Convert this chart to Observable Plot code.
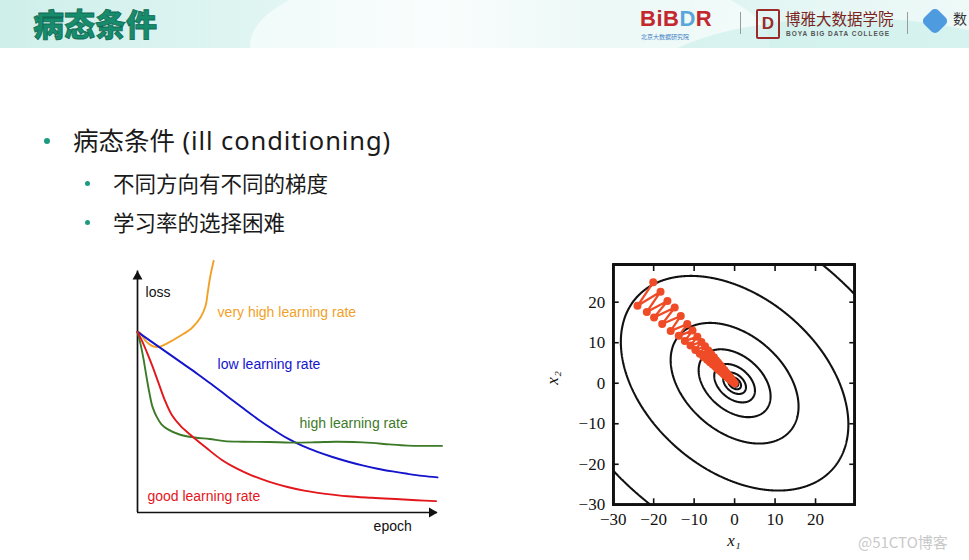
<!DOCTYPE html>
<html><head><meta charset="utf-8">
<script src="https://cdn.jsdelivr.net/npm/d3@7"></script>
<script src="https://cdn.jsdelivr.net/npm/@observablehq/plot@0.6"></script>
<style>
html,body{margin:0;padding:0;}
body{width:969px;height:560px;overflow:hidden;background:#fff;position:relative;font-family:"Noto Sans","Noto Sans CJK SC",sans-serif;color:#222;}
#hdr{position:absolute;left:0;top:0;width:969px;height:48px;overflow:hidden;
 background:linear-gradient(90deg,#cfefeb 0%,#e2f6f3 30%,#f3fbfa 45%,#d5f1ed 62%,#e3f6f3 80%,#eef9f8 100%);}
#hdr .w1{position:absolute;left:250px;top:-40px;width:520px;height:170px;border-radius:50%;background:rgba(255,255,255,0.55);}
#hdr .w2{position:absolute;left:640px;top:18px;width:420px;height:140px;border-radius:50%;background:rgba(200,238,233,0.6);}
#title{position:absolute;left:33px;top:3px;font-family:"Noto Sans CJK SC";font-size:31px;line-height:40px;font-weight:900;color:#168c6c;-webkit-text-stroke:0.8px #0f6a53;}
.logo{position:absolute;white-space:nowrap;}
.dot{position:absolute;width:6px;height:6px;border-radius:50%;background:#1d9a80;}
.txt{position:absolute;white-space:nowrap;color:#1a1a1a;}
#left{position:absolute;left:120px;top:248px;}
#right{position:absolute;left:540px;top:255px;}
#wm{position:absolute;left:858px;top:531px;font-size:15px;color:#c9c9c9;white-space:nowrap;font-family:"Noto Sans CJK SC";}
</style></head><body>
<div id="hdr"><div class="w1"></div><div class="w2"></div>
  <div id="title">病态条件</div>
  <div class="logo" style="left:640px;top:6px;font:bold 22px/26px 'Liberation Sans',sans-serif;color:#c3282e;letter-spacing:0.5px">BiB<span style="color:#59a6da">D</span>R</div>
  <div class="logo" style="left:641px;top:33px;font-size:6px;line-height:8px;color:#3f7fc4;font-family:'Noto Sans CJK SC'">北京大数据研究院</div>
  <div class="logo" style="left:740px;top:12px;width:1px;height:22px;background:#9a9a9a"></div>
  <div class="logo" style="left:756px;top:9px;width:20px;height:26px;border:2px solid #9b2a2a;border-radius:2px;font:bold 17px 'Liberation Sans';color:#9b2a2a;text-align:center;line-height:26px">D</div>
  <div class="logo" style="left:785px;top:8px;font-size:15.5px;line-height:20px;color:#7b2420;font-family:'Noto Sans CJK SC'">博雅大数据学院</div>
  <div class="logo" style="left:786px;top:30px;font:bold 6.5px 'Liberation Sans';color:#555;letter-spacing:1px">BOYA BIG DATA COLLEGE</div>
  <div class="logo" style="left:907px;top:12px;width:1px;height:22px;background:#9a9a9a"></div>
  <div class="logo" style="left:925px;top:11px;width:20px;height:20px;transform:rotate(45deg);border-radius:5px;background:#4f9be0"></div>
  <div class="logo" style="left:953px;top:9px;font-size:14px;line-height:18px;color:#333;font-family:'Noto Sans CJK SC'">数</div>
</div>

<div class="dot" style="left:44px;top:138px"></div>
<div class="txt" style="left:73px;top:121px;font-size:25.5px;line-height:38px">病态条件<span style="letter-spacing:0.9px"> (ill conditioning)</span></div>
<div class="dot" style="left:85px;top:181px;width:5px;height:5px"></div>
<div class="txt" style="left:113px;top:168px;font-size:21.5px;line-height:30px;font-family:'Noto Sans CJK SC'">不同方向有不同的梯度</div>
<div class="dot" style="left:85px;top:220px;width:5px;height:5px"></div>
<div class="txt" style="left:113px;top:207px;font-size:21.5px;line-height:30px;font-family:'Noto Sans CJK SC'">学习率的选择困难</div>

<div id="left"></div>
<div id="right"></div>
<div id="wm">@51CTO博客</div>

<script>
// ---------- Left chart: loss vs epoch ----------
const veryHighLR = [[0,60.2],[0.8,60],[2.7,57.2],[4.9,55.5],[7.1,55.2],[9.9,56.4],[14.3,58.9],[18.2,61.6],[21,65],[22.7,68.9],[23.4,73.3],[24.3,78.9],[25.4,83.9]];
const lowLR = [[0,60.2],[5,56.7],[10,53.2],[15,49.7],[20,46.2],[25,42.5],[30,38.7],[35,34.9],[40,31.2],[45,27.8],[50,24.7],[55,22.2],[60,20.2],[65,18.5],[70,17],[75,15.7],[80,14.6],[85,13.7],[90,12.9],[95,12.2],[100,11.7]];
const highLR = [[0,60.2],[1,56.2],[2,51.2],[3,45.2],[4,39.7],[5,35.2],[6.5,31.7],[8,29.4],[10,27.8],[14,26],[19,25],[24,24.5],[29,23.8],[35,23.6],[44,23.5],[51,23.3],[59,23.4],[66,23.6],[72,23.5],[78,23.2],[84,22.7],[90,22.3],[96,22.2],[101.5,22.2]];
const goodLR = [[0,60.2],[1.5,57.2],[3,53.7],[5,48.7],[7,43.2],[9,37.7],[11.5,32.4],[14.5,28.7],[18,25.6],[23,21.5],[28,17.6],[33,14.7],[38,12.4],[44,10.2],[50,8.5],[56,7.2],[62,6.3],[70,5.4],[78,4.9],[86,4.5],[93,4.1],[99.5,3.8]];
const seriesNames = ["very high learning rate","low learning rate","high learning rate","good learning rate"];
const seriesColors = ["#f2a128","#1414cc","#3c7a28","#e3161b"];
const labelEpoch = [26.7, 26.7, 54, 3.3];
const labelLoss = [66.5, 49.2, 29.5, 5.2];
const axisNames = ["loss","epoch"];
const axisNameEpoch = [2.7, 78.7];
const axisNameLoss = [73.2, -4.8];
const epochEnd = 100, lossTop = 80.5;

const lineRows = [veryHighLR, lowLR, highLR, goodLR].flatMap((pts, i) =>
  pts.map(([e, l]) => ({epoch: e, loss: l, name: seriesNames[i]})));
const labelRows = seriesNames.map((n, i) => ({name: n, epoch: labelEpoch[i], loss: labelLoss[i]}));
const axisNameRows = axisNames.map((n, i) => ({name: n, epoch: axisNameEpoch[i], loss: axisNameLoss[i]}));

const left = Plot.plot({
  width: 340, height: 290, marginLeft: 17, marginRight: 20, marginTop: 18, marginBottom: 26,
  style: {fontFamily: "'Liberation Sans', Arial, sans-serif", background: "transparent", overflow: "visible"},
  x: {domain: [0, 101], axis: null},
  y: {domain: [0, 82], axis: null},
  color: {domain: seriesNames, range: seriesColors},
  marks: [
    Plot.ruleY([0], {x1: 0, x2: epochEnd, stroke: "#111", strokeWidth: 1.7}),
    Plot.ruleX([0], {y1: 0, y2: lossTop, stroke: "#111", strokeWidth: 1.7}),
    Plot.dot([0], {x: epochEnd, y: 0, symbol: "triangle", r: 3.7, fill: "#111", stroke: null, rotate: 90, dx: -5.6}),
    Plot.dot([0], {x: 0, y: lossTop, symbol: "triangle", r: 3.7, fill: "#111", stroke: null, dy: 5.6}),
    Plot.line(lineRows, {x: "epoch", y: "loss", z: "name", stroke: "name", strokeWidth: 1.9, curve: "catmull-rom"}),
    Plot.text(labelRows, {x: "epoch", y: "loss", text: "name", fill: "name", textAnchor: "start", fontSize: 14}),
    Plot.text(axisNameRows, {x: "epoch", y: "loss", text: "name", fill: "#111", textAnchor: "start", fontSize: 14})
  ]
});
document.getElementById("left").appendChild(left);

// ---------- Right chart: gradient descent on an ill-conditioned quadratic ----------
const quadCoef = [1.485, 0.606, 1.673];   // a, b, c of a x^2 + 2 b x y + c y^2
const contourLevels = [1, 3.2, 10, 32, 100, 316, 1000, 2900];
const gdPath = [[-20.1,24.9],[-24.0,19.1],[-18.3,22.6],[-21.7,17.6],[-16.6,20.3],[-19.9,16.2],[-14.8,18.7],[-17.9,14.6],
  [-13.3,16.6],[-15.8,12.9],[-11.7,14.6],[-13.8,11.7],[-10.4,13.0],[-12.3,10.4],[-9.2,11.5],[-10.9,9.3],[-8.2,10.2],[-9.7,8.2],
  [-7.3,9.1],[-8.6,7.3],[-6.5,8.1],[-7.7,6.5],[-5.8,7.2],[-6.8,5.8],[-5.1,6.4],[-6.1,5.2],[-4.6,5.7],[-5.4,4.6],[-4.1,5.1],
  [-4.8,4.1],[-3.6,4.5],[-4.3,3.6],[-3.2,4.0],[-3.8,3.2],[-2.9,3.6],[-3.4,2.9],[-2.5,3.2],[-3.0,2.6],[-2.3,2.8],[-2.7,2.3],
  [-2.0,2.5],[-2.4,2.0],[-1.8,2.2],[-2.1,1.8],[-1.6,2.0],[-1.9,1.6],[-1.4,1.8],[-1.7,1.4],[-1.3,1.6],[-1.5,1.3],[-1.1,1.4],
  [-1.3,1.1],[-1.0,1.2],[-1.2,1.0],[-0.9,1.1],[-1.1,0.9],[-0.8,1.0],[-0.9,0.8],[-0.6,0.7],[-0.7,0.6],[-0.4,0.5],[-0.5,0.4],
  [-0.3,0.3],[-0.2,0.2],[0,0]];
const xDomain = [-30, 29.7], yDomain = [-30, 29.3];
const labelTicks = [-30, -20, -10, 0, 10, 20];
const innerTicks = [-20, -10, 0, 10, 20];
const pathColor = "#ee4b26";
const fmt = d => d < 0 ? "\u2212" + Math.abs(d) : String(d);
const [qa, qb, qc] = quadCoef;

const right = Plot.plot({
  width: 330, height: 305, marginLeft: 72.7, marginRight: 15.7, marginTop: 9, marginBottom: 55.7,
  style: {fontFamily: "'Liberation Serif', 'DejaVu Serif', serif", background: "transparent", overflow: "visible", color: "#111"},
  x: {domain: xDomain}, y: {domain: yDomain},
  marks: [
    Plot.contour({value: (x, y) => qa * x * x + 2 * qb * x * y + qc * y * y,
      x1: xDomain[0], x2: xDomain[1], y1: yDomain[0], y2: yDomain[1],
      thresholds: contourLevels, stroke: "#111", strokeWidth: 2.1, fill: "none", pixelSize: 0.5}),
    Plot.line(gdPath, {x: d => d[0], y: d => d[1], stroke: pathColor, strokeWidth: 2.3}),
    Plot.dot(gdPath, {x: d => d[0], y: d => d[1], r: 4, fill: pathColor, stroke: null}),
    Plot.frame({stroke: "#111", strokeWidth: 2.4}),
    Plot.axisX(innerTicks, {anchor: "bottom", tickSize: 6, dy: -6, fill: "none", strokeWidth: 1.6, label: null}),
    Plot.axisX(innerTicks, {anchor: "top", tickSize: 6, dy: 6, fill: "none", strokeWidth: 1.6, label: null}),
    Plot.axisY(innerTicks, {anchor: "left", tickSize: 6, dx: 6, fill: "none", strokeWidth: 1.6, label: null}),
    Plot.axisY(innerTicks, {anchor: "right", tickSize: 6, dx: -6, fill: "none", strokeWidth: 1.6, label: null}),
    Plot.axisX(labelTicks, {anchor: "bottom", tickSize: 0, tickPadding: 8, tickFormat: fmt, fontSize: 17, label: null}),
    Plot.axisY(labelTicks, {anchor: "left", tickSize: 0, tickPadding: 8, tickFormat: fmt, fontSize: 17, label: null}),
    Plot.text(["x\u2081"], {frameAnchor: "bottom", dy: 41, fontStyle: "italic", fontSize: 17}),
    Plot.text(["x\u2082"], {frameAnchor: "left", dx: -61, rotate: -90, fontStyle: "italic", fontSize: 17})
  ]
});
document.getElementById("right").appendChild(right);
</script>
</body></html>
